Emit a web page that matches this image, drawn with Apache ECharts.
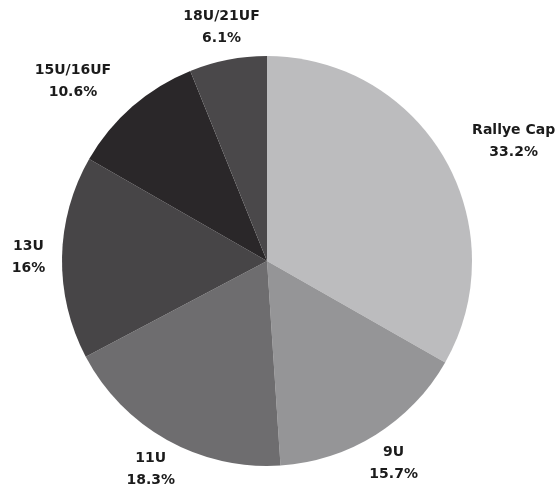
<!DOCTYPE html>
<html>
<head>
<meta charset="utf-8">
<script src="https://cdn.jsdelivr.net/npm/echarts@6/dist/echarts.min.js"></script>
<style>
html,body{margin:0;padding:0;background:#fff;}
#chart{width:558px;height:488px;}
</style>
</head>
<body>
<div id="chart"></div>
<script>
const categories = ['Rallye Cap', '9U', '11U', '13U', '15U/16UF', '18U/21UF'];
const values = [33.2, 15.7, 18.3, 16, 10.6, 6.1];
const palette = ['#bcbcbe', '#959597', '#6e6d6f', '#474547', '#2a2729', '#4a484a'];

const CX = 267, CY = 261, R = 205;
const LABEL_DIST = 238.5, CLEAR_GAP = 25;
const total = values.reduce((a, b) => a + b, 0);

const chart = echarts.init(document.getElementById('chart'));
chart.setOption({
  backgroundColor: '#ffffff',
  animation: false,
  series: [{
    type: 'pie',
    center: [CX, CY],
    radius: [0, R],
    startAngle: 90,
    clockwise: true,
    data: categories.map((c, i) => ({ name: c, value: values[i], itemStyle: { color: palette[i] } })),
    itemStyle: { borderWidth: 0 },
    emphasis: { disabled: true },
    label: {
      show: true,
      position: 'inside',
      color: '#1b1b1b',
      fontFamily: 'DejaVu Sans',
      fontWeight: 'bold',
      fontSize: 14,
      lineHeight: 22,
      align: 'center',
      formatter: p => p.name + '\n' + p.value + '%'
    },
    labelLine: { show: false },
    labelLayout: function (params) {
      // label centred on the slice mid angle, outside the pie;
      // pushed sideways if its box would overlap the pie
      const i = params.dataIndex;
      let cum = 0;
      for (let j = 0; j < i; j++) cum += values[j];
      const mid = (cum + values[i] / 2) / total * Math.PI * 2;
      const ux = Math.sin(mid), uy = -Math.cos(mid);
      const w = params.labelRect.width, h = params.labelRect.height;
      let x = ux * LABEL_DIST, y = uy * LABEL_DIST;
      const y0 = y - h / 2, y1 = y + h / 2;
      const yNear = (y0 <= 0 && y1 >= 0) ? 0 : Math.min(Math.abs(y0), Math.abs(y1));
      if (yNear < R) {
        const ext = Math.sqrt(R * R - yNear * yNear);
        const inner = Math.abs(x) - w / 2;
        if (inner < ext) {
          const s = ux >= 0 ? 1 : -1;
          x = s * (ext + CLEAR_GAP + w / 2);
        }
      }
      return { x: CX + x, y: CY + y, align: 'center', verticalAlign: 'middle' };
    }
  }]
});
</script>
</body>
</html>
